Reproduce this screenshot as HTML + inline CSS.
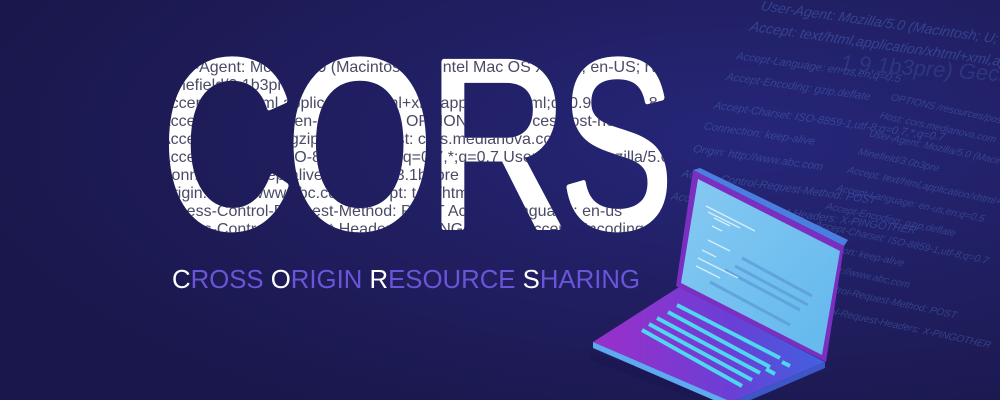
<!DOCTYPE html>
<html><head><meta charset="utf-8"><style>
html,body{margin:0;padding:0;width:1000px;height:400px;overflow:hidden;background:#1e1b55}
svg{display:block}
</style></head><body>
<svg width="1000" height="400" viewBox="0 0 1000 400" xmlns="http://www.w3.org/2000/svg">
<defs>
<radialGradient id="bg" cx="0.75" cy="0.35" r="0.8">
<stop offset="0" stop-color="#26267a"/><stop offset="0.6" stop-color="#1f1d5c"/><stop offset="1" stop-color="#1a174c"/>
</radialGradient>
<linearGradient id="base" x1="0" y1="0" x2="1" y2="0">
<stop offset="0" stop-color="#9b2fc9"/><stop offset="0.6" stop-color="#6a3fd6"/><stop offset="1" stop-color="#3f62e0"/>
</linearGradient>
<linearGradient id="scr" x1="0" y1="0" x2="1" y2="1">
<stop offset="0" stop-color="#86c9f2"/><stop offset="1" stop-color="#62b8ee"/>
</linearGradient>
<g id="letters" font-family="Liberation Sans, sans-serif" font-size="240" stroke-width="6" stroke-linejoin="round">
<text transform="translate(162,227) scale(0.757,1)">C</text>
<text transform="translate(287,227) scale(0.78,1)">O</text>
<text transform="translate(428,227) scale(0.806,1)">R</text>
<text transform="translate(561,227) scale(0.698,1)">S</text>
</g>
<mask id="m" maskUnits="userSpaceOnUse" x="0" y="0" width="1000" height="400">
<use href="#letters" fill="#fff" stroke="#fff"/>
</mask>
</defs>
<rect width="1000" height="400" fill="url(#bg)"/>

<!-- right background code -->
<g font-family="Liberation Sans Narrow, Liberation Sans, sans-serif" fill="#4a6fc0" opacity="0.45" font-style="italic">
<g transform="translate(760,10) rotate(8) skewX(-8)" font-size="11">
<text x="0" y="0" font-size="14">User-Agent: Mozilla/5.0 (Macintosh; U; Intel</text>
<text x="-5" y="22" font-size="14">Accept: text/html,application/xhtml+xml,application/xml;q=0.9,*/*;q=0.8</text>
<text x="-10" y="52">Accept-Language: en-us,en;q=0.5</text>
<text x="-14" y="74">Accept-Encoding: gzip,deflate</text>
<text x="-18" y="104">Accept-Charset: ISO-8859-1,utf-8;q=0.7,*;q=0.7</text>
<text x="-22" y="126">Connection: keep-alive</text>
<text x="-26" y="150">Origin: http://www.abc.com</text>
<text x="-30" y="176">Access-Control-Request-Method: POST</text>
<text x="-34" y="200">Access-Control-Request-Headers: X-PINGOTHER</text>
</g>
<g transform="translate(890,100) rotate(12) skewX(-8)" font-size="10">
<text x="0" y="0">OPTIONS /resources/post-here/ HTTP/1.1</text>
<text x="-4" y="20">Host: cors.medianova.com</text>
<text x="-8" y="40">User-Agent: Mozilla/5.0 (Macintosh; U; Intel</text>
<text x="-12" y="60">Minefield/3.0b3pre</text>
<text x="-16" y="80">Accept: text/html,application/xhtml+xml</text>
<text x="-20" y="100">Accept-Language: en-us,en;q=0.5</text>
<text x="-24" y="120">Accept-Encoding: gzip,deflate</text>
<text x="-28" y="140">Accept-Charset: ISO-8859-1,utf-8;q=0.7</text>
<text x="-32" y="160">Connection: keep-alive</text>
<text x="-36" y="180">Origin: http://www.abc.com</text>
<text x="-40" y="200">Access-Control-Request-Method: POST</text>
<text x="-44" y="222">Access-Control-Request-Headers: X-PINGOTHER</text>
</g>
<text x="840" y="70" font-size="22" opacity="0.6" transform="rotate(4 840 70)">1.9.1b3pre) Gecko/20081130</text>
</g>

<!-- CORS big letters -->
<use href="#letters" fill="#ffffff" stroke="#ffffff"/>
<g mask="url(#m)" font-family="Liberation Sans Narrow, Liberation Sans, sans-serif" font-size="16" fill="#4a4a66">
<text x="160" y="72">User-Agent: Mozilla/5.0 (Macintosh; U; Intel Mac OS X 10.5; en-US; rv:1.9.1b3pre) Gecko/20081130</text>
<text x="160" y="90">Minefield/3.1b3pre</text>
<text x="160" y="108">Accept: text/html,application/xhtml+xml,application/xml;q=0.9,*/*;q=0.8</text>
<text x="160" y="126">Accept-Language: en-us,en;q=0.5   OPTIONS /resources/post-here/</text>
<text x="160" y="144">Accept-Encoding: gzip,deflate     Host: cors.medianova.com</text>
<text x="160" y="162">Accept-Charset: ISO-8859-1,utf-8;q=0.7,*;q=0.7 User-Agent: Mozilla/5.0 (Macintosh; U</text>
<text x="160" y="180">Connection: keep-alive          Minefield/3.1b3pre</text>
<text x="160" y="198">Origin: http://www.abc.com      Accept: text/html</text>
<text x="160" y="216">Access-Control-Request-Method: POST Accept-Language: en-us</text>
<text x="160" y="234">Access-Control-Request-Headers: X-PINGOTHER Accept-Encoding: gzip,deflate</text>
</g>

<!-- subtitle -->
<text x="172" y="288" fill="#6a55d8" font-family="Liberation Sans, sans-serif" font-size="26" textLength="468" lengthAdjust="spacingAndGlyphs"><tspan fill="#ffffff">C</tspan>ROSS <tspan fill="#ffffff">O</tspan>RIGIN <tspan fill="#ffffff">R</tspan>ESOURCE <tspan fill="#ffffff">S</tspan>HARING</text>

<!-- laptop -->
<polygon points="590,350 735,405 735,415 590,360" fill="#1a1650" opacity="0.6"/>
<polygon points="593,342 679,287 825,362 732,402" fill="url(#base)"/>
<polygon points="593,342 732,402 732,408 593,348" fill="#5fa9f0"/>
<polygon points="732,402 825,362 825,368 732,408" fill="#3d56c8"/>
<polygon points="693,170 700,168 848,240 844,246" fill="#4a7fe0"/>
<polygon points="693,170 844,246 826,362 676,286" fill="#7a2fc0"/>
<polygon points="698,179 840,251 822,355 681,283" fill="url(#scr)"/>
<g stroke="#4fd7f0" stroke-width="4">
<line x1="677" y1="305" x2="780" y2="358"/>
<line x1="668" y1="312" x2="770" y2="367"/>
<line x1="657" y1="318" x2="760" y2="373"/>
<line x1="649" y1="324" x2="752" y2="380"/>
<line x1="642" y1="330" x2="742" y2="386"/>
<line x1="782" y1="362" x2="790" y2="366"/>
<line x1="766" y1="369" x2="775" y2="374"/>
</g>
<g stroke="#5a9ad6" stroke-width="3" opacity="0.7">
<line x1="742" y1="258" x2="812" y2="296"/>
<line x1="735" y1="266" x2="808" y2="305"/>
<line x1="725" y1="270" x2="800" y2="310"/>
<line x1="710" y1="282" x2="790" y2="325"/>
</g>
<g stroke="#ffffff" stroke-width="1.3" opacity="0.7">
<line x1="706" y1="206" x2="755" y2="231"/>
<line x1="708" y1="212" x2="740" y2="228"/>
<line x1="714" y1="218" x2="730" y2="226"/>
<line x1="712" y1="226" x2="722" y2="231"/>
<line x1="708" y1="240" x2="730" y2="251"/>
<line x1="702" y1="250" x2="716" y2="257"/>
<line x1="698" y1="258" x2="738" y2="278"/>
<line x1="696" y1="266" x2="720" y2="278"/>
</g>
</svg>
</body></html>
